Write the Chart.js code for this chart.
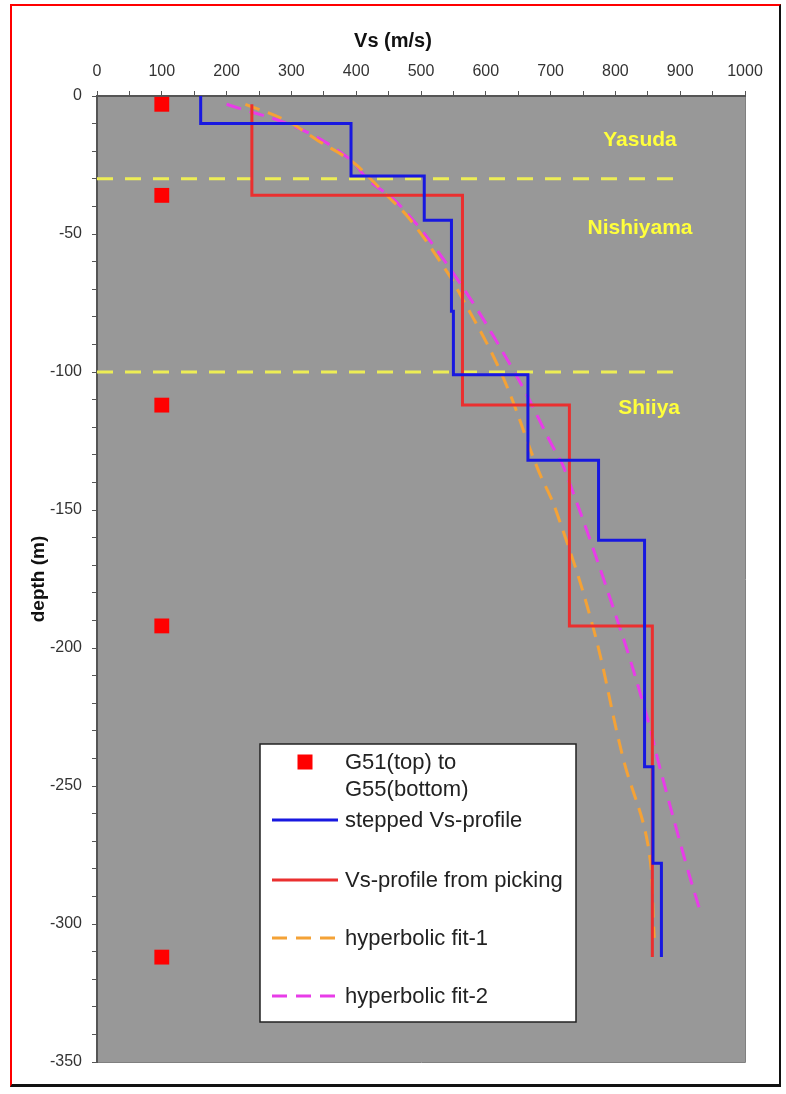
<!DOCTYPE html>
<html>
<head>
<meta charset="utf-8">
<title>Vs profile</title>
<script src="https://cdn.jsdelivr.net/npm/chart.js@4.4.0/dist/chart.umd.min.js"></script>
<style>
  body { margin: 0; width: 786px; height: 1094px; position: relative; overflow: hidden; background: #fff; }
  #frame {
    position: absolute; left: 10px; top: 4px; width: 771px; height: 1083px;
    border-left: 2px solid #ff0000; border-top: 2px solid #ff0000;
    border-right: 2px solid #111; border-bottom: 3px solid #111;
    box-sizing: border-box;
  }
  #vsChart { position: absolute; left: 0; top: 0; }
</style>
</head>
<body>
<div id="frame"></div>
<canvas id="vsChart" width="786" height="1094"></canvas>
<script>
// Tick labels
const vsLabels = [0, 100, 200, 300, 400, 500, 600, 700, 800, 900, 1000];
const depthLabels = [0, -50, -100, -150, -200, -250, -300, -350];

// Geophones G51..G55 (plotted at Vs = 100)
const geophoneVs = [100, 100, 100, 100, 100];
const geophoneDepth = [-3, -36, -112, -192, -312];

// stepped Vs-profile
const steppedVs = [160, 160, 392, 392, 505, 505, 547, 547, 550, 550, 665, 665, 774, 774, 845, 845, 858, 858, 871, 871];
const steppedDepth = [0, -10, -10, -29, -29, -45, -45, -78, -78, -101, -101, -132, -132, -161, -161, -243, -243, -278, -278, -312];

// Vs-profile from picking
const pickedVs = [239, 239, 564, 564, 729, 729, 857, 857];
const pickedDepth = [-3, -36, -36, -112, -112, -192, -192, -312];

// hyperbolic fit-1
const fit1Vs = [229, 293, 340, 395, 422, 443, 484, 541, 556, 623, 680, 708, 765, 812, 850, 860];
const fit1Depth = [-3, -9, -16, -24, -30, -35, -45, -64, -70, -100, -135, -150, -192, -240, -271, -305];

// hyperbolic fit-2
const fit2Vs = [200, 314, 391, 417, 469, 552, 644, 701, 721, 806, 850, 866, 910, 933];
const fit2Depth = [-3, -12, -23, -30, -40, -65, -100, -126, -135, -192, -226, -241, -279, -297];

// formation boundaries and names
const boundaryDepths = [-30, -100];
const boundaryVs = [0, 900];
const layerNames = ['Yasuda', 'Nishiyama', 'Shiiya'];
const layerVs = [838, 838, 852];
const layerDepth = [-16, -48, -113];

const FONT = "'Liberation Sans', Arial, sans-serif";

function toPoints(xs, ys) {
  return xs.map((x, i) => ({ x: x, y: ys[i] }));
}

// Plot background + right/bottom edge
const backdrop = {
  id: 'backdrop',
  beforeDraw(chart) {
    const { ctx, chartArea: a } = chart;
    ctx.save();
    ctx.fillStyle = '#989898';
    ctx.fillRect(a.left, a.top, a.right - a.left, a.bottom - a.top);
    ctx.strokeStyle = '#808080';
    ctx.lineWidth = 1;
    ctx.beginPath();
    ctx.moveTo(a.right + 0.5, a.top);
    ctx.lineTo(a.right + 0.5, a.bottom + 0.5);
    ctx.lineTo(a.left, a.bottom + 0.5);
    ctx.stroke();
    ctx.restore();
  }
};

// Layer names, x-axis title and the boxed legend
const annotations = {
  id: 'annotations',
  afterDraw(chart) {
    const { ctx, scales } = chart;
    ctx.save();

    // layer names
    ctx.fillStyle = '#ffff3c';
    ctx.font = 'bold 21px ' + FONT;
    ctx.textAlign = 'center';
    ctx.textBaseline = 'middle';
    layerNames.forEach((name, i) => {
      ctx.fillText(name, scales.x.getPixelForValue(layerVs[i]), scales.y.getPixelForValue(layerDepth[i]));
    });

    // axis title on top
    ctx.fillStyle = '#111';
    ctx.font = 'bold 20px ' + FONT;
    ctx.fillText('Vs (m/s)', 393, 41);

    // legend box
    const box = { left: 260, top: 744, right: 576, bottom: 1022 };
    ctx.fillStyle = '#ffffff';
    ctx.fillRect(box.left, box.top, box.right - box.left, box.bottom - box.top);
    ctx.strokeStyle = '#222';
    ctx.lineWidth = 1.5;
    ctx.strokeRect(box.left, box.top, box.right - box.left, box.bottom - box.top);

    const rows = [762, 820, 880, 938, 996];
    const sx0 = 272, sx1 = 338, tx = 345;
    ctx.textAlign = 'left';
    ctx.font = '22px ' + FONT;
    chart.data.datasets.forEach((ds, i) => {
      if (ds.inLegend === false) return;
      const y = rows[i];
      if (ds.showLine === false) {
        const s = 15;
        ctx.fillStyle = ds.backgroundColor;
        ctx.fillRect((sx0 + sx1) / 2 - s / 2, y - s / 2, s, s);
      } else {
        ctx.strokeStyle = ds.borderColor;
        ctx.lineWidth = ds.borderWidth;
        ctx.setLineDash(ds.borderDash || []);
        ctx.beginPath();
        ctx.moveTo(sx0, y);
        ctx.lineTo(sx1, y);
        ctx.stroke();
        ctx.setLineDash([]);
      }
      ctx.fillStyle = '#222';
      const lines = Array.isArray(ds.label) ? ds.label : [ds.label];
      lines.forEach((t, k) => ctx.fillText(t, tx, y + 1 + k * 27));
    });
    ctx.restore();
  }
};

const ctx = document.getElementById('vsChart').getContext('2d');
new Chart(ctx, {
  type: 'scatter',
  data: {
    datasets: [
      {
        label: ['G51(top) to', 'G55(bottom)'],
        data: toPoints(geophoneVs, geophoneDepth),
        showLine: false,
        pointStyle: 'rect',
        pointRadius: 10.5,
        backgroundColor: '#ff0000',
        borderColor: '#ff0000',
        borderWidth: 0
      },
      {
        label: 'stepped Vs-profile',
        data: toPoints(steppedVs, steppedDepth),
        showLine: true,
        borderColor: '#1818e0',
        borderWidth: 3,
        pointRadius: 0,
        tension: 0
      },
      {
        label: 'Vs-profile from picking',
        data: toPoints(pickedVs, pickedDepth),
        showLine: true,
        borderColor: '#ea2f2f',
        borderWidth: 3,
        pointRadius: 0,
        tension: 0
      },
      {
        label: 'hyperbolic fit-1',
        data: toPoints(fit1Vs, fit1Depth),
        showLine: true,
        borderColor: '#f4a236',
        borderWidth: 3,
        borderDash: [15, 9],
        pointRadius: 0,
        tension: 0.4
      },
      {
        label: 'hyperbolic fit-2',
        data: toPoints(fit2Vs, fit2Depth),
        showLine: true,
        borderColor: '#e83ce8',
        borderWidth: 3,
        borderDash: [15, 9],
        pointRadius: 0,
        tension: 0.4
      },
      ...boundaryDepths.map(d => ({
        label: 'boundary',
        inLegend: false,
        data: toPoints(boundaryVs, boundaryVs.map(() => d)),
        showLine: true,
        borderColor: '#eded55',
        borderWidth: 3,
        borderDash: [16, 12],
        pointRadius: 0
      }))
    ]
  },
  options: {
    responsive: false,
    animation: false,
    devicePixelRatio: 1,
    layout: { padding: { left: 20, top: 0, right: 41, bottom: 32 } },
    plugins: {
      legend: { display: false },
      tooltip: { enabled: false }
    },
    scales: {
      x: {
        type: 'linear',
        position: 'top',
        min: 0,
        max: 1000,
        afterFit: (s) => { s.height = 96; },
        ticks: {
          stepSize: 50,
          autoSkip: false,
          maxRotation: 0,
          padding: 10,
          color: '#333',
          font: { family: FONT, size: 16 },
          callback: (v) => vsLabels.includes(v) ? String(v) : ''
        },
        grid: { drawOnChartArea: false, drawTicks: true, tickLength: 5, color: '#555' },
        border: { display: true, color: '#555', width: 2 }
      },
      y: {
        type: 'linear',
        min: -350,
        max: 0,
        afterFit: (s) => { s.width = 77; },
        ticks: {
          stepSize: 10,
          autoSkip: false,
          padding: 10,
          color: '#333',
          font: { family: FONT, size: 16 },
          callback: (v) => depthLabels.includes(v) ? String(v) : ''
        },
        grid: { drawOnChartArea: false, drawTicks: true, tickLength: 5, color: '#555' },
        border: { display: true, color: '#555', width: 2 },
        title: {
          display: true,
          text: 'depth (m)',
          color: '#111',
          font: { family: FONT, size: 19, weight: 'bold' },
          padding: { top: 7, bottom: 0 }
        }
      }
    }
  },
  plugins: [backdrop, annotations]
});
</script>
</body>
</html>
